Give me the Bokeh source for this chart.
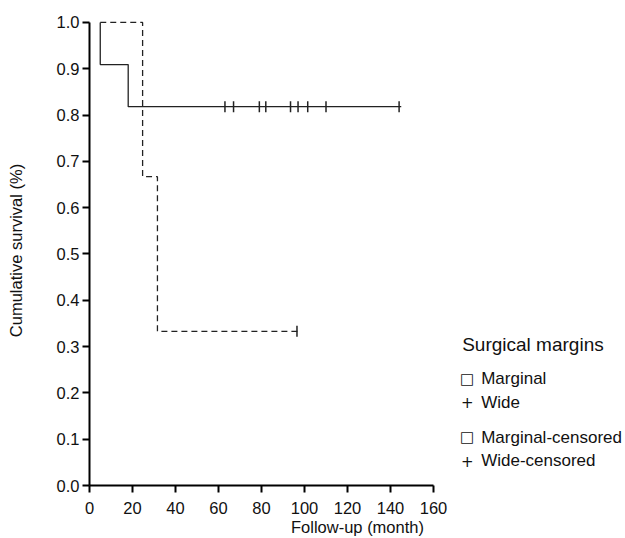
import math
from bokeh.plotting import figure
from bokeh.models import Range1d, FixedTicker, NumeralTickFormatter
from bokeh.core.properties import value
from bokeh.embed import file_html
from bokeh.resources import INLINE

# Data
wide_times = [5, 5, 18, 145]
wide_surv = [1.0, 0.909, 0.818, 0.818]
wide_cens_t = [63, 67, 79, 82, 93.5, 97, 101.5, 110, 144]
wide_cens_s = [0.818] * len(wide_cens_t)

marg_times = [5, 24.7, 31.6, 97.5]
marg_surv = [1.0, 0.667, 0.333, 0.333]
marg_cens_t = [96.5]
marg_cens_s = [0.333]

x_ticks = [0, 20, 40, 60, 80, 100, 120, 140, 160]
y_ticks = [0.0, 0.1, 0.2, 0.3, 0.4, 0.5, 0.6, 0.7, 0.8, 0.9, 1.0]

legend_title = "Surgical margins"
legend_symbols = ["\u25a1", "+", "\u25a1", "+"]
legend_labels = ["Marginal", "Wide", "Marginal-censored", "Wide-censored"]

FONT = "Liberation Sans"
INK = "#222222"
TXT = "#111111"

PX_PER_X = 344 / 160.0
FRAME_W = 625 - 89
Y_TOP = 1.015

p = figure(frame_width=FRAME_W, frame_height=470,
           x_range=Range1d(0, FRAME_W / PX_PER_X), y_range=Range1d(0, Y_TOP),
           output_backend="svg", toolbar_location=None,
           min_border_left=89, min_border_top=15, min_border_right=0, min_border_bottom=53)
p.outline_line_color = None
p.xgrid.visible = False
p.ygrid.visible = False

p.step(wide_times, wide_surv, mode="after", line_color=INK, line_width=1.3)
p.step(marg_times, marg_surv, mode="after", line_color=INK, line_width=1.3, line_dash="6 4")
p.scatter(wide_cens_t, wide_cens_s, marker="dash", angle=math.pi / 2, size=11,
          line_color=INK, line_width=1.5)
p.scatter(marg_cens_t, marg_cens_s, marker="dash", angle=math.pi / 2, size=11,
          line_color=INK, line_width=1.5)

for ax in (p.xaxis[0], p.yaxis[0]):
    ax.axis_line_width = 2
    ax.axis_line_color = "black"
    ax.major_tick_line_width = 2
    ax.major_tick_line_color = "black"
    ax.major_tick_in = 0
    ax.major_tick_out = 7
    ax.minor_tick_line_color = None
    ax.major_label_text_font = FONT
    ax.major_label_text_font_size = "16.5px"
    ax.major_label_text_color = TXT
    ax.major_label_text_line_height = 1.0
    ax.axis_label_text_font = FONT
    ax.axis_label_text_font_size = "16.5px"
    ax.axis_label_text_font_style = "normal"
    ax.axis_label_text_color = TXT
    ax.axis_label_text_line_height = 1.0

p.xaxis.ticker = FixedTicker(ticks=x_ticks)
p.yaxis.ticker = FixedTicker(ticks=y_ticks)
p.yaxis.formatter = NumeralTickFormatter(format="0.0")
p.yaxis.bounds = (0, 1)
p.xaxis.bounds = (0, 160)
p.xaxis.axis_label = "Follow-up (month)"
p.yaxis.axis_label = "Cumulative survival (%)"
p.xaxis.major_label_standoff = 9
p.yaxis.major_label_standoff = 3
p.xaxis.axis_label_standoff = 1
p.yaxis.axis_label_standoff = 29

# legend (drawn as text in the free area right of the axes)
def px_x(px):
    return (px - 89) / PX_PER_X

def px_y(py):
    return (485 - py) / (470 / Y_TOP)

p.text(x=[px_x(461.7)], y=[px_y(344)], text=[legend_title], text_font=value(FONT),
       text_font_size="19px", text_color=TXT, text_baseline="alphabetic", text_align="left")
base_y = [px_y(v) for v in (378.3, 401.7, 436.7, 460)]
p.text(x=[px_x(466.7)] * 4, y=base_y, text=legend_symbols, text_font=value("DejaVu Sans"),
       text_font_size="15px", text_color=TXT, text_baseline="alphabetic", text_align="center")
p.text(x=[px_x(480.7)] * 4, y=base_y, text=legend_labels, text_font=value(FONT),
       text_font_size="17px", text_color=TXT, text_baseline="alphabetic", text_align="left")

open("out.html", "w").write(file_html(p, INLINE))
